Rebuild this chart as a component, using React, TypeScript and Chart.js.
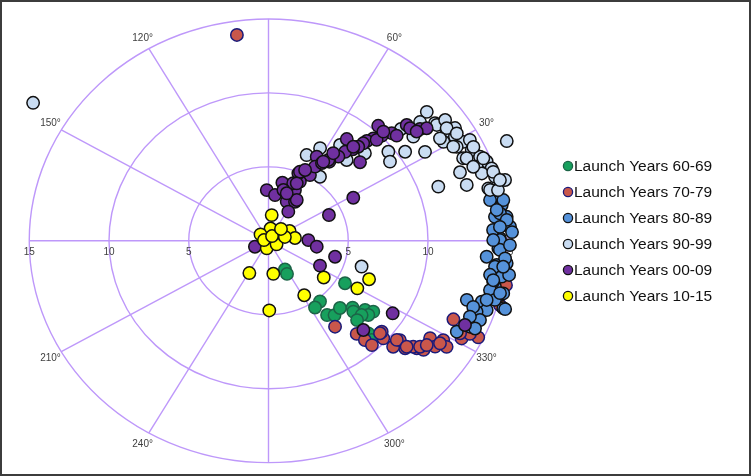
import React, { useEffect, useRef } from "react";
import { Chart, registerables } from "chart.js";

Chart.register(...registerables);

// ---- data: [angle in degrees, radius] ----
const seriesNames = [
  "Launch Years 60-69",
  "Launch Years 70-79",
  "Launch Years 80-89",
  "Launch Years 90-99",
  "Launch Years 00-09",
  "Launch Years 10-15",
];

const years6069: [number, number][] = [
  [298, 2.2], [297.4, 2.52], [329.1, 5.59], [308.2, 5.22], [302.9, 5.37], [306.2, 6.22],
  [309.5, 6.51], [319.4, 6.94], [318, 7.16], [322.3, 7.65], [323.9, 8.13], [321.3, 8.02],
  [319.3, 7.7], [315, 8.85], [314, 9.32], [316, 7.72], [314.6, 6.38],
];

const years7079: [number, number][] = [
  [98.1, 14.06], [335.4, 12.75], [333.6, 14.68], [328.5, 12.85], [327, 12.08], [322, 11.8],
  [321.7, 11.56], [319.7, 11.23], [322.8, 12.2], [317.5, 10.6], [317.5, 9.76], [319.1, 9.39],
  [331.4, 13.79], [327.3, 13.27], [325.6, 12.66], [305.7, 7.15], [311.3, 8.38], [318.2, 9.38],
  [323, 11.9], [320.8, 10.63], [348.6, 15.19], [343.3, 15.15], [333.5, 14.11], [312, 9.03],
  [312.6, 9.58], [320.2, 10.47], [320.4, 11.24], [324.6, 12.17], [327.2, 12.79], [332.5, 13.54],
];

const years8089: [number, number][] = [
  [12.2, 14.64], [9.4, 14.82], [6.5, 14.29], [6.2, 15.02], [3.6, 15.17], [0.7, 14.51],
  [358, 14.42], [355.5, 13.72], [353.5, 14.4], [354.2, 15.01], [13.5, 14.72], [10.6, 14.98],
  [7.3, 14.63], [5.4, 15.0], [0.2, 14.51], [357.6, 14.52], [355.4, 14.88], [353, 14.31],
  [350.6, 14.82], [347.7, 14.53], [345.8, 14.97], [342.8, 15.41], [348.9, 14.36], [346.5, 14.28],
  [346.4, 15.14], [344.3, 14.75], [342.9, 13.99], [342.2, 13.06], [342.7, 15.54], [341.1, 14.46],
  [339.8, 13.9], [338, 14.3], [335.3, 13.9], [332.5, 13.31], [335.4, 14.24], [358.9, 15.14],
  [2.2, 15.28], [3, 14.1], [350.6, 14.08], [351.3, 15.26], [11.2, 14.16], [8.3, 14.46],
  [3.7, 14.54], [0.2, 14.09], [353.2, 14.82], [349.3, 14.34], [346.3, 14.94], [343.7, 14.25],
  [340.8, 13.59], [337.9, 13.63],
];

const years9099: [number, number][] = [
  [147.7, 17.46], [41.3, 13.21], [37.3, 13.12], [37.8, 11.49], [38.7, 9.63], [35.1, 10.47],
  [31.5, 11.51], [35.1, 9.31], [19, 11.26], [67.6, 6.27], [53.3, 5.4], [44.4, 8.46],
  [48.1, 7.34], [24.3, 16.39], [21.1, 12.87], [16.9, 12.99], [14.4, 14.23], [343.4, 6.09],
  [36.6, 13.14], [33.1, 13.33], [31.1, 13.65], [28.7, 13.93], [25.7, 14.14], [23.2, 14.43],
  [21.4, 14.69], [19.3, 14.82], [15.5, 15.39], [13.9, 14.31], [24.6, 13.42], [31.4, 12.85],
  [28.3, 13.4], [21, 13.98], [17, 14.85], [18.8, 14.13], [40.2, 12.44], [36.4, 13.76],
  [33.1, 13.96], [28.4, 14.35], [13.4, 14.79], [42.3, 11.23], [62.7, 7.05], [55.3, 7.88],
  [34.3, 13.52], [31.6, 13.86], [26.3, 14.33], [22.5, 14.58], [18.3, 14.84], [15.8, 15.08],
  [32.8, 12.79], [28.8, 13.22], [24.2, 13.62], [21.3, 13.78],
];

const years0009: [number, number][] = [
  [48.5, 10.38], [42.1, 11.68], [38.5, 12.14], [37.5, 12.5], [43.3, 10.61], [41.5, 10.73],
  [45, 10.05], [46.5, 9.55], [47.6, 9.14], [48, 8.87], [48.5, 8.49], [49.5, 8.14],
  [54.5, 8.45], [51.4, 7.7], [52.4, 7.18], [42.8, 7.82], [54.5, 6.57], [62, 6.44],
  [59.7, 5.15], [59.8, 5.8], [63.8, 4.46], [77.5, 4.02], [91.8, 3.43], [82.5, 3.12],
  [64.2, 3.81], [66.6, 2.88], [57.8, 3.12], [57.8, 2.33], [28.7, 6.06], [24.7, 4.17],
  [67.7, 4.93], [1.1, 2.5], [352.5, 3.05], [345.5, 4.31], [332.5, 3.64], [205.2, 0.94],
  [327.8, 9.2], [314.6, 8.47], [335.2, 13.57], [45.2, 9.62], [40.6, 11.69], [38.5, 11.87],
  [67.1, 5.07], [68.3, 4.19], [74.8, 3.56], [57.3, 3.28], [55.5, 6.63], [57.5, 6.24],
  [64.4, 5.31], [50.1, 8.29], [55.6, 7.18], [57.3, 6.36], [65.5, 4.27], [70.4, 3.41],
  [45.7, 10.31],
];

const years1015: [number, number][] = [
  [83.4, 1.75], [81.1, 0.84], [139.3, 0.66], [30.6, 0.77], [26.6, 1.48], [6.5, 1.67],
  [285, 0.12], [257.8, 0.52], [334.8, 0.56], [241.2, 2.49], [277.7, 2.25], [324.4, 4.26],
  [301.3, 4.31], [270.6, 4.71], [330, 6.43], [337.6, 6.82], [14.2, 1.06], [170, 0.29],
  [55.5, 0.39], [45.7, 1.12],
];

const seriesData = [years6069, years7079, years8089, years9099, years0009, years1015];

// ---- polar axis definitions ----
const ringRadii = [5, 10, 15];
const spokeAngles = [0, 30, 60, 90, 120, 150, 180, 210, 240, 270, 300, 330];
const angleTickLabels = [30, 60, 120, 150, 210, 240, 300, 330];
const radiusTickLabels = [5, 10, 15];
const outerRadius = 15;

// ---- styles ----
const fillColors = ["#17a05d", "#c9574b", "#5592da", "#c9dcf2", "#7030a0", "#ffff00"];
const edgeColors = ["#1c6447", "#1a1a7a", "#111111", "#111111", "#111111", "#111111"];
const gridColor = "rgb(190,152,250)";

const toXY = (pts: [number, number][]) =>
  pts.map(([deg, r]) => ({
    x: r * Math.cos((deg * Math.PI) / 180),
    y: r * Math.sin((deg * Math.PI) / 180),
  }));

const polarGridPlugin = {
  id: "polarGrid",
  beforeDatasetsDraw(chart: any) {
    const { ctx } = chart;
    const xs = chart.scales.x;
    const ys = chart.scales.y;
    const cx = xs.getPixelForValue(0);
    const cy = ys.getPixelForValue(0);
    ctx.save();
    ctx.strokeStyle = gridColor;
    ctx.lineWidth = 1.4;
    for (const r of ringRadii) {
      const rx = xs.getPixelForValue(r) - cx;
      const ry = cy - ys.getPixelForValue(r);
      ctx.beginPath();
      ctx.ellipse(cx, cy, rx, ry, 0, 0, Math.PI * 2);
      ctx.stroke();
    }
    for (const a of spokeAngles) {
      const rad = (a * Math.PI) / 180;
      ctx.beginPath();
      ctx.moveTo(cx, cy);
      ctx.lineTo(
        xs.getPixelForValue(outerRadius * Math.cos(rad)),
        ys.getPixelForValue(outerRadius * Math.sin(rad))
      );
      ctx.stroke();
    }
    ctx.fillStyle = "#404040";
    ctx.font = "10px 'Liberation Sans', Arial, sans-serif";
    ctx.textAlign = "center";
    ctx.textBaseline = "middle";
    for (const a of angleTickLabels) {
      const rad = (a * Math.PI) / 180;
      const ex = xs.getPixelForValue(outerRadius * Math.cos(rad));
      const ey = ys.getPixelForValue(outerRadius * Math.sin(rad));
      const off = 12.5;
      ctx.fillText(a + "°", ex + off * Math.cos(rad), ey - off * Math.sin(rad));
    }
    for (const r of radiusTickLabels) {
      const lx = xs.getPixelForValue(-r);
      const rx = xs.getPixelForValue(r);
      ctx.fillText(String(r), lx, cy + 11);
      ctx.fillText(String(r), rx, cy + 11);
    }
    ctx.restore();
  },
  afterDraw(chart: any) {
    const { ctx } = chart;
    ctx.save();
    ctx.font = "15.5px 'Liberation Sans', Arial, sans-serif";
    ctx.textBaseline = "middle";
    ctx.textAlign = "left";
    seriesNames.forEach((name, i) => {
      const y = 166 + i * 26;
      ctx.beginPath();
      ctx.arc(568, y, 4.6, 0, Math.PI * 2);
      ctx.fillStyle = fillColors[i];
      ctx.fill();
      ctx.lineWidth = 1.3;
      ctx.strokeStyle = edgeColors[i];
      ctx.stroke();
      ctx.fillStyle = "#111111";
      ctx.fillText(name, 574, y + 0.5);
    });
    ctx.strokeStyle = "#3c3c3c";
    ctx.lineWidth = 2;
    ctx.strokeRect(1, 1, chart.width - 2, chart.height - 2);
    ctx.restore();
  },
};

export default function App() {
  const ref = useRef<HTMLCanvasElement | null>(null);
  useEffect(() => {
    if (!ref.current) return;
    const pxPerUnitX = 15.95;
    const pxPerUnitY = 14.79;
    const originX = 268.5;
    const originY = 240.8;
    const chart = new Chart(ref.current, {
      type: "scatter",
      data: {
        datasets: seriesNames.map((name, i) => ({
          label: name,
          data: toXY(seriesData[i]),
          backgroundColor: fillColors[i],
          borderColor: edgeColors[i],
          pointRadius: 6.2,
          pointBorderWidth: 1.5,
          pointHoverRadius: 6.2,
          order: seriesNames.length - 1 - i,
        })),
      },
      options: {
        animation: false,
        responsive: false,
        events: [],
        layout: { padding: 0, autoPadding: false },
        plugins: { legend: { display: false }, tooltip: { enabled: false } },
        scales: {
          x: {
            type: "linear",
            display: false,
            bounds: "data",
            min: -originX / pxPerUnitX,
            max: (751 - originX) / pxPerUnitX,
          },
          y: {
            type: "linear",
            display: false,
            bounds: "data",
            min: -(476 - originY) / pxPerUnitY,
            max: originY / pxPerUnitY,
          },
        },
      },
      plugins: [polarGridPlugin],
    });
    return () => chart.destroy();
  }, []);
  return (
    <div style={{ position: "absolute", left: 0, top: 0, width: 751, height: 476, background: "#fff" }}>
      <canvas ref={ref} width={751} height={476} style={{ display: "block" }} />
    </div>
  );
}
